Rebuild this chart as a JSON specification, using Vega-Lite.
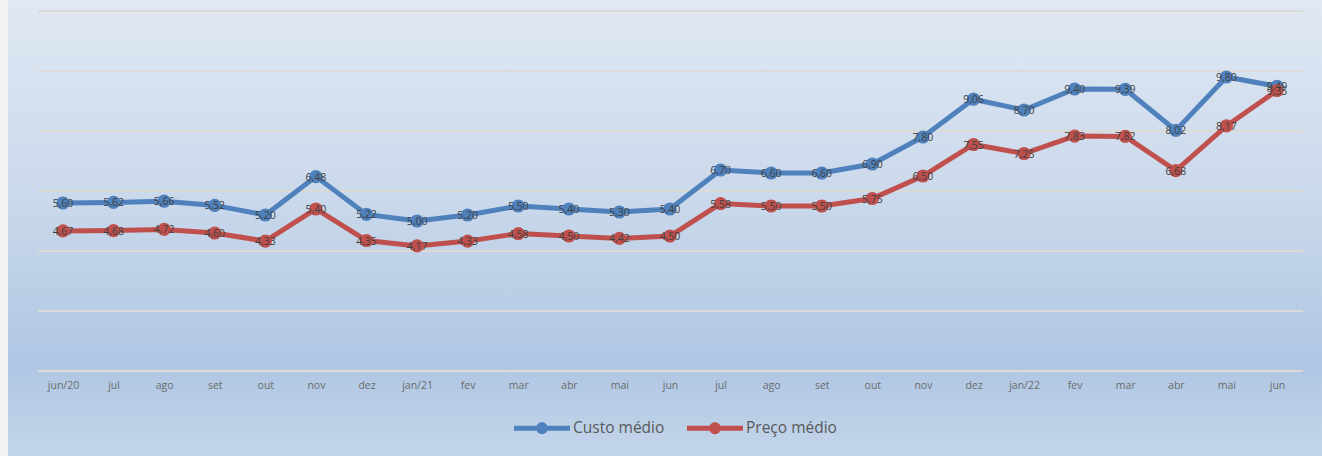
{
  "$schema": "https://vega.github.io/schema/vega-lite/v6.json",
  "width": 1314,
  "height": 456,
  "autosize": {"type": "none"},
  "padding": {"left": 8, "top": 0, "right": 0, "bottom": 0},
  "background": "#f3f3f3",
  "view": {
    "stroke": null,
    "fill": {
      "gradient": "linear", "x1": 0, "y1": 0, "x2": 0, "y2": 1,
      "stops": [
        {"offset": 0, "color": "#e0e8f3"},
        {"offset": 0.45, "color": "#c9d8eb"},
        {"offset": 0.8, "color": "#afc6e3"},
        {"offset": 1, "color": "#c3d5ea"}
      ]
    }
  },
  "config": {
    "locale": {"number": {"decimal": ",", "thousands": ".", "grouping": [3], "currency": ["R$", ""]}},
    "font": "Open Sans"
  },
  "datasets": {
    "grid": [{"g": 0}, {"g": 2}, {"g": 4}, {"g": 6}, {"g": 8}, {"g": 10}, {"g": 12}],
    "main": [
      {"mes": "jun/20", "serie": "Custo médio", "valor": 5.60},
      {"mes": "jul/20", "serie": "Custo médio", "valor": 5.62},
      {"mes": "ago/20", "serie": "Custo médio", "valor": 5.66},
      {"mes": "set/20", "serie": "Custo médio", "valor": 5.52},
      {"mes": "out/20", "serie": "Custo médio", "valor": 5.20},
      {"mes": "nov/20", "serie": "Custo médio", "valor": 6.48},
      {"mes": "dez/20", "serie": "Custo médio", "valor": 5.22},
      {"mes": "jan/21", "serie": "Custo médio", "valor": 5.00},
      {"mes": "fev/21", "serie": "Custo médio", "valor": 5.20},
      {"mes": "mar/21", "serie": "Custo médio", "valor": 5.50},
      {"mes": "abr/21", "serie": "Custo médio", "valor": 5.40},
      {"mes": "mai/21", "serie": "Custo médio", "valor": 5.30},
      {"mes": "jun/21", "serie": "Custo médio", "valor": 5.40},
      {"mes": "jul/21", "serie": "Custo médio", "valor": 6.70},
      {"mes": "ago/21", "serie": "Custo médio", "valor": 6.60},
      {"mes": "set/21", "serie": "Custo médio", "valor": 6.60},
      {"mes": "out/21", "serie": "Custo médio", "valor": 6.90},
      {"mes": "nov/21", "serie": "Custo médio", "valor": 7.80},
      {"mes": "dez/21", "serie": "Custo médio", "valor": 9.06},
      {"mes": "jan/22", "serie": "Custo médio", "valor": 8.70},
      {"mes": "fev/22", "serie": "Custo médio", "valor": 9.40},
      {"mes": "mar/22", "serie": "Custo médio", "valor": 9.39},
      {"mes": "abr/22", "serie": "Custo médio", "valor": 8.02},
      {"mes": "mai/22", "serie": "Custo médio", "valor": 9.80},
      {"mes": "jun/22", "serie": "Custo médio", "valor": 9.49},
      {"mes": "jun/20", "serie": "Preço médio", "valor": 4.67},
      {"mes": "jul/20", "serie": "Preço médio", "valor": 4.68},
      {"mes": "ago/20", "serie": "Preço médio", "valor": 4.72},
      {"mes": "set/20", "serie": "Preço médio", "valor": 4.60},
      {"mes": "out/20", "serie": "Preço médio", "valor": 4.33},
      {"mes": "nov/20", "serie": "Preço médio", "valor": 5.40},
      {"mes": "dez/20", "serie": "Preço médio", "valor": 4.35},
      {"mes": "jan/21", "serie": "Preço médio", "valor": 4.17},
      {"mes": "fev/21", "serie": "Preço médio", "valor": 4.33},
      {"mes": "mar/21", "serie": "Preço médio", "valor": 4.58},
      {"mes": "abr/21", "serie": "Preço médio", "valor": 4.50},
      {"mes": "mai/21", "serie": "Preço médio", "valor": 4.42},
      {"mes": "jun/21", "serie": "Preço médio", "valor": 4.50},
      {"mes": "jul/21", "serie": "Preço médio", "valor": 5.58},
      {"mes": "ago/21", "serie": "Preço médio", "valor": 5.50},
      {"mes": "set/21", "serie": "Preço médio", "valor": 5.50},
      {"mes": "out/21", "serie": "Preço médio", "valor": 5.75},
      {"mes": "nov/21", "serie": "Preço médio", "valor": 6.50},
      {"mes": "dez/21", "serie": "Preço médio", "valor": 7.55},
      {"mes": "jan/22", "serie": "Preço médio", "valor": 7.25},
      {"mes": "fev/22", "serie": "Preço médio", "valor": 7.83},
      {"mes": "mar/22", "serie": "Preço médio", "valor": 7.82},
      {"mes": "abr/22", "serie": "Preço médio", "valor": 6.68},
      {"mes": "mai/22", "serie": "Preço médio", "valor": 8.17},
      {"mes": "jun/22", "serie": "Preço médio", "valor": 9.35}
    ]
  },
  "layer": [
    {
      "data": {"name": "grid"},
      "mark": {"type": "rule", "color": "#dcdad6", "strokeWidth": 2},
      "encoding": {
        "y": {"field": "g", "type": "quantitative", "scale": {"domain": [0, 12], "range": [371, 11]}, "axis": null},
        "x": {"datum": 0, "type": "quantitative", "scale": {"domain": [0, 1], "range": [30, 1295]}, "axis": null},
        "x2": {"datum": 1}
      }
    },
    {
      "data": {"name": "main"},
      "encoding": {
        "x": {
          "field": "mes", "type": "ordinal", "sort": null,
          "scale": {"type": "point", "range": [55, 1269], "padding": 0},
          "axis": {
            "orient": "bottom", "offset": -85, "title": null, "domain": false, "ticks": false, "grid": false,
            "labelAngle": 0, "labelPadding": 9, "labelFontSize": 10.5, "labelColor": "#6b6b6b", "labelFont": "Open Sans",
            "labelExpr": "indexof(['jun/20','jan/21','jan/22'], datum.value) >= 0 ? datum.value : split(datum.value, '/')[0]"
          }
        },
        "y": {"field": "valor", "type": "quantitative", "scale": {"domain": [0, 12], "range": [371, 11]}, "axis": null},
        "color": {
          "field": "serie", "type": "nominal",
          "scale": {"domain": ["Custo médio", "Preço médio"], "range": ["#4f81bd", "#c0504d"]},
          "legend": {
            "title": null, "orient": "none", "direction": "horizontal", "legendX": 506, "legendY": 400,
            "padding": 0, "columnPadding": 22, "labelOffset": 3,
            "symbolType": "M-1,-0.09H1V0.09H-1Z M0.21,0A0.21,0.21,0,1,1,-0.21,0A0.21,0.21,0,1,1,0.21,0Z",
            "symbolSize": 3136, "symbolStrokeWidth": 0, "symbolOpacity": 1,
            "labelFontSize": 15.5, "labelColor": "#595959", "labelFont": "Open Sans",
            "encode": {"symbols": {"update": {"fill": {"scale": "color", "field": "value"}, "strokeWidth": {"value": 0}}}}
          }
        }
      },
      "layer": [
        {"mark": {"type": "line", "strokeWidth": 5}},
        {"mark": {"type": "point", "filled": true, "size": 175, "opacity": 1}},
        {
          "mark": {"type": "text", "baseline": "middle", "align": "center", "dy": 1, "fontSize": 10.5, "color": "#404040", "font": "Open Sans"},
          "encoding": {"text": {"field": "valor", "type": "quantitative", "format": ".2f"}, "color": {"value": "#404040"}}
        }
      ]
    }
  ],
  "resolve": {"scale": {"x": "independent"}}
}
